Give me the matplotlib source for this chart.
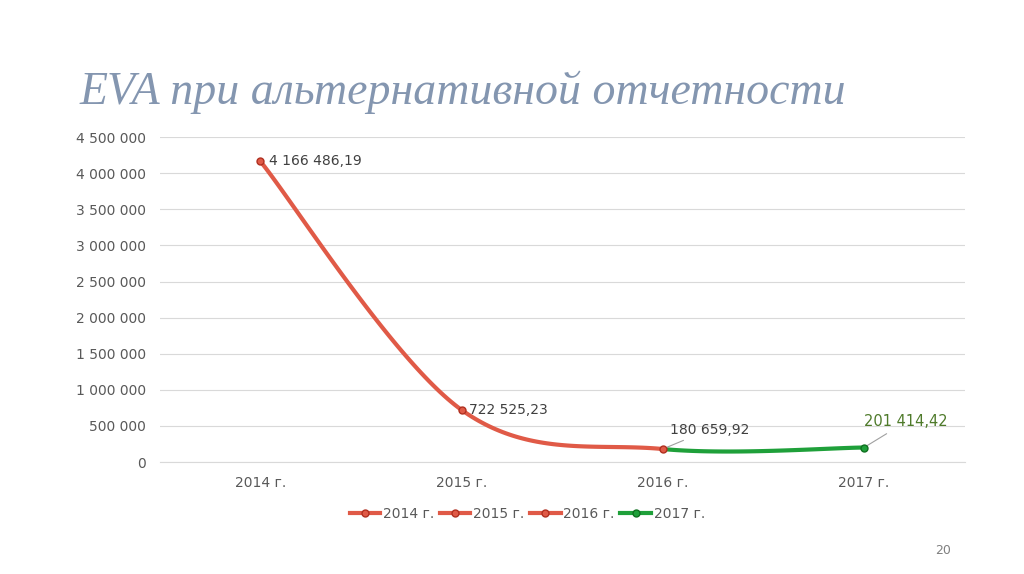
import matplotlib
matplotlib.use("Agg")
import matplotlib.pyplot as plt
import numpy as np
from matplotlib.lines import Line2D

categories = ["2014 г.", "2015 г.", "2016 г.", "2017 г."]
values = [4166486.19, 722525.23, 180659.92, 201414.42]
labels = ["4 166 486,19", "722 525,23", "180 659,92", "201 414,42"]
yticks = [0, 500000, 1000000, 1500000, 2000000, 2500000, 3000000, 3500000, 4000000, 4500000]

RED = "#E05A47"
GREEN = "#1FA03A"

def fmt(v):
    return "{:,}".format(int(v)).replace(",", " ")

def catmull(xs, ys, i, n=60):
    p = list(zip(xs, ys))
    p0 = p[i-1] if i > 0 else p[i]
    p1, p2 = p[i], p[i+1]
    p3 = p[i+2] if i+2 < len(p) else p[i+1]
    c1 = (p1[0] + (p2[0]-p0[0])/6, p1[1] + (p2[1]-p0[1])/6)
    c2 = (p2[0] - (p3[0]-p1[0])/6, p2[1] - (p3[1]-p1[1])/6)
    s = np.linspace(0, 1, n)
    bx = (1-s)**3*p1[0] + 3*(1-s)**2*s*c1[0] + 3*(1-s)*s**2*c2[0] + s**3*p2[0]
    by = (1-s)**3*p1[1] + 3*(1-s)**2*s*c1[1] + 3*(1-s)*s**2*c2[1] + s**3*p2[1]
    return bx, by

fig = plt.figure(figsize=(10.24, 5.74), dpi=100)
ax = fig.add_axes([0.156, 0.195, 0.786, 0.566])
x = np.arange(len(values))
for i in range(len(values)-1):
    bx, by = catmull(x, values, i)
    ax.plot(bx, by, color=GREEN if i == 2 else RED, lw=3, solid_capstyle="round", zorder=3)
for i, v in enumerate(values):
    c = GREEN if i == 3 else RED
    ax.plot(x[i], v, "o", ms=5, mfc=c, mec="#B03020" if i < 3 else "#107020", mew=1, zorder=4)

ax.annotate(labels[0], (0, values[0]), xytext=(6, 0), textcoords="offset points", va="center", fontsize=10, color="#404040")
ax.annotate(labels[1], (1, values[1]), xytext=(5, 0), textcoords="offset points", va="center", fontsize=10, color="#404040")
ax.annotate(labels[2], (2, values[2]), xytext=(5, 9), textcoords="offset points", va="bottom", fontsize=10, color="#404040",
            arrowprops=dict(arrowstyle="-", color="#A0A0A0", lw=0.8))
ax.annotate(labels[3], (3, values[3]), xytext=(0, 13), textcoords="offset points", va="bottom", fontsize=10.5, color="#4E7A2A",
            arrowprops=dict(arrowstyle="-", color="#A0A0A0", lw=0.8))

ax.set_xlim(-0.5, 3.5)
ax.set_ylim(0, 4500000)
ax.set_yticks(yticks)
ax.set_yticklabels([fmt(v) for v in yticks])
ax.set_xticks(x)
ax.set_xticklabels(categories)
ax.tick_params(length=0, labelsize=10, colors="#595959", pad=10)
ax.grid(axis="y", color="#D9D9D9", lw=0.8)
for s in ["top", "right", "left"]:
    ax.spines[s].set_visible(False)
ax.spines["bottom"].set_color("#D9D9D9")
ax.set_axisbelow(True)

handles = [Line2D([], [], color=RED, lw=3, marker="o", ms=5, mec="#B03020") for _ in range(3)]
handles.append(Line2D([], [], color=GREEN, lw=3, marker="o", ms=5, mec="#107020"))
fig.legend(handles, categories, loc="center", bbox_to_anchor=(0.515, 0.104), ncol=4, frameon=False,
           fontsize=10, labelcolor="#595959", handlelength=2.2, columnspacing=0.4, handletextpad=0.2)

fig.text(0.078, 0.84, "EVA при альтернативной отчетности", fontsize=33, family="Liberation Serif",
         style="italic", color="#8496B0", va="center")
fig.text(0.913, 0.035, "20", fontsize=9, color="#808080")
fig.savefig("out.png", dpi=100)
